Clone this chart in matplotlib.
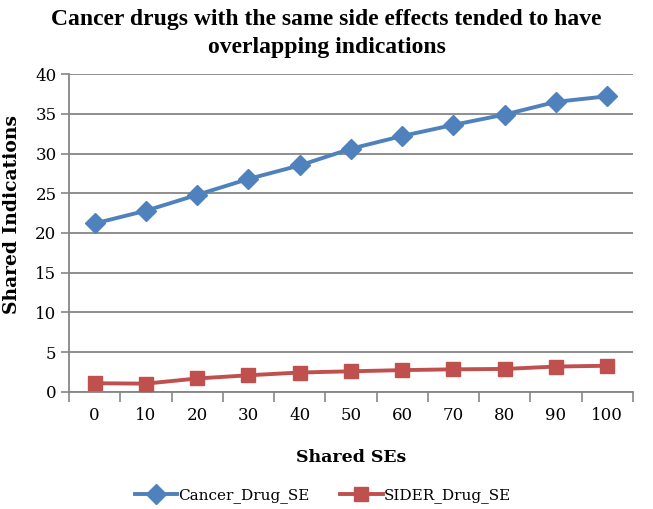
import numpy as np
import matplotlib.pyplot as plt

shared_ses = ['0', '10', '20', '30', '40', '50', '60', '70', '80', '90', '100']
cancer_drug_se = [21.2, 22.8, 24.8, 26.8, 28.5, 30.6, 32.2, 33.6, 34.9, 36.5, 37.2]
sider_drug_se = [1.1, 1.05, 1.7, 2.1, 2.45, 2.6, 2.75, 2.85, 2.9, 3.2, 3.3]

def main():
    plt.rcParams['font.family'] = ['DejaVu Serif']
    fig = plt.figure(figsize=(6.53, 5.09), dpi=100)
    ax = fig.add_axes([0.1057, 0.2299, 0.8635, 0.6247])

    x = np.arange(len(shared_ses))
    ax.plot(x, cancer_drug_se, color='#4F81BD', lw=2.8, marker='D',
            markersize=10, label='Cancer_Drug_SE', zorder=3)
    ax.plot(x, sider_drug_se, color='#C0504D', lw=2.8, marker='s',
            markersize=10.5, label='SIDER_Drug_SE', zorder=3)

    ax.set_xlim(-0.5, len(x) - 0.5)
    ax.set_ylim(0, 40)
    ax.set_yticks(np.arange(0, 41, 5))
    ax.set_xticks(x)
    ax.set_xticklabels(shared_ses)
    ax.set_xticks(np.arange(-0.5, len(x), 1), minor=True)
    ax.tick_params(axis='x', which='major', length=0, pad=11, labelsize=12)
    ax.tick_params(axis='x', which='minor', length=7, width=1.2, color='#868686')
    ax.tick_params(axis='y', length=6, width=1.2, color='#868686', labelsize=12, pad=3)

    ax.grid(axis='y', color='#868686', lw=1.3)
    ax.set_axisbelow(True)
    for s in ['top', 'right']:
        ax.spines[s].set_visible(False)
    for s in ['left', 'bottom']:
        ax.spines[s].set_color('#868686')
        ax.spines[s].set_linewidth(1.3)

    ax.set_xlabel('Shared SEs', fontsize=12.5, fontweight='bold', labelpad=18)
    ax.set_ylabel('Shared Indications', fontsize=13.5, fontweight='bold')
    ax.yaxis.set_label_coords(-0.085, 0.557)
    fig.text(0.5, 0.982, 'Cancer drugs with the same side effects tended to have\noverlapping indications',
             ha='center', va='top', fontsize=17, fontweight='bold',
             family='Liberation Serif', linespacing=1.45)

    ax.legend(loc='center', bbox_to_anchor=(0.45, -0.325), ncol=2, frameon=False,
              fontsize=11, handlelength=2.8, columnspacing=2.0, handletextpad=0.05)

    fig.savefig('out.png', dpi=100)

main()
